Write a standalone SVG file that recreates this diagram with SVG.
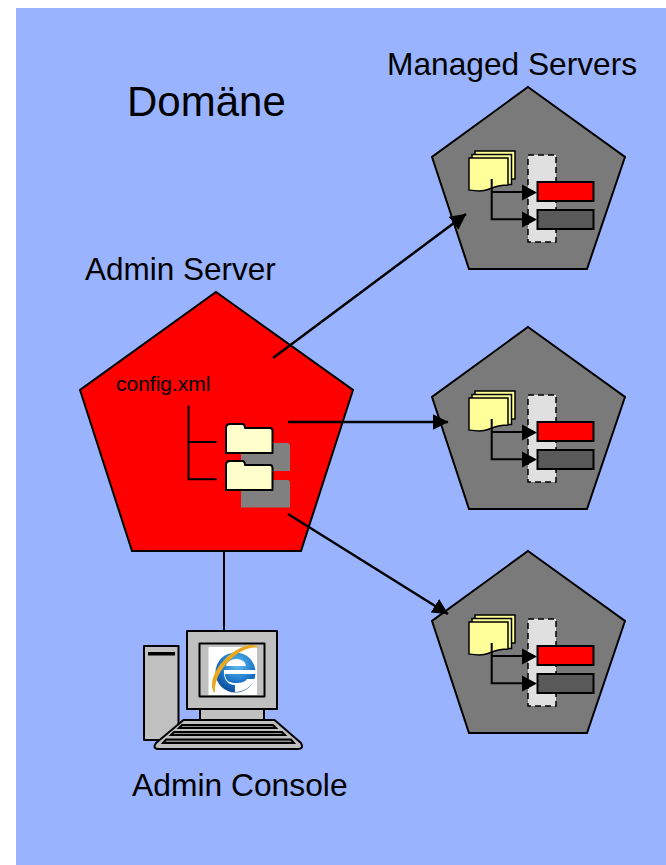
<svg xmlns="http://www.w3.org/2000/svg" width="666" height="865" viewBox="0 0 666 865">
<style>
text{font-family:"Liberation Sans",Arial,sans-serif;fill:#000}
.ln{fill:none;stroke:#000;stroke-width:2}
.ar{fill:none;stroke:#000;stroke-width:2.500}
.ms{fill:#7a7a7a;stroke:#000;stroke-width:2;stroke-linejoin:miter}
.pg{fill:#ffff99;stroke:#000;stroke-width:1.500}
.fd{fill:#ffffcc;stroke:#000;stroke-width:2;stroke-linejoin:round}
.gr{fill:#808080}
.kb{fill:#c0c0c0;stroke:#000;stroke-width:2;stroke-linejoin:round}
</style>
<defs>
<marker id="ah" markerUnits="userSpaceOnUse" markerWidth="16" markerHeight="16" refX="15.500" refY="8" orient="auto"><path d="M0 0L16 8L0 16Z" fill="#000"/></marker>
<g id="managed">
<polygon class="ms" points="528,87 625,157 587,269 469,269 432,157"/>
<rect x="528" y="155" width="28" height="87" fill="#e0e0e0" stroke="#000" stroke-width="1.500" stroke-dasharray="6 4"/>
<rect class="pg" x="475" y="151" width="40" height="28"/>
<rect class="pg" x="472" y="154.500" width="39.500" height="30"/>
<path class="pg" d="M469 158H508V185C498 185 494 187 488 189.500C482 192 476 191 469 190Z"/>
<path d="M491.700 179V219.300H524M491.700 192H524" fill="none" stroke="#000" stroke-width="2"/>
<path d="M522 184.500L537 192.500L522 200.500Z M522 211.500L537 219.500L522 227.500Z" fill="#000"/>
<rect x="537.500" y="182" width="56" height="19" fill="#ff0000" stroke="#000" stroke-width="2"/>
<rect x="537.500" y="210" width="56" height="19" fill="#595959" stroke="#000" stroke-width="2"/>
</g>
<radialGradient id="ball" cx="0.55" cy="0.3" r="0.8"><stop offset="0" stop-color="#5fc0ee"/><stop offset="0.55" stop-color="#1a74c8"/><stop offset="1" stop-color="#0c3f88"/></radialGradient>
</defs>
<rect x="16" y="8" width="650" height="857" fill="#99b3ff"/>
<g id="domain-label"><text x="127" y="116" font-size="42">Domäne</text></g>
<g id="managed-label"><text x="387" y="75" font-size="31.700">Managed Servers</text></g>
<g id="admin-server">
<polygon points="216,292 353,390 301,551 132,551 80,390" fill="#ff0000" stroke="#000" stroke-width="2"/>
<text x="85" y="280" font-size="31.500">Admin Server</text>
<text x="116" y="391" font-size="21">config.xml</text>
<path class="gr" d="M241 443H287Q290 443 290 446V471H241Z"/>
<path class="gr" d="M241 480H287Q290 480 290 483V507.500H241Z"/>
<path class="ln" d="M188.500 405.500V479.300H216.700M188.500 442H216.700"/>
<path class="fd" d="M226 453V428Q226 424 230 424H242Q245 424 245 428H270Q272.500 428 272.500 431V453Z"/>
<path class="fd" d="M226 490V465Q226 461 230 461H242Q245 461 245 465H270Q272.500 465 272.500 468V490Z"/>
</g>
<g id="managed-1"><use href="#managed"/></g>
<g id="managed-2"><use href="#managed" y="240"/></g>
<g id="managed-3"><use href="#managed" y="464"/></g>
<g id="connectors">
<path class="ln" d="M224 551V631"/>
<path class="ar" marker-end="url(#ah)" d="M273 358L466 214"/>
<path class="ar" marker-end="url(#ah)" d="M288 422H448"/>
<path class="ar" marker-end="url(#ah)" d="M288 514L448 614"/>
</g>
<g id="admin-console">
<rect class="kb" x="144" y="646" width="34.500" height="94"/>
<rect x="148" y="652" width="27" height="3.500" fill="#000"/>
<rect class="kb" x="187" y="631" width="90" height="78"/>
<rect class="kb" x="199.500" y="643.500" width="65" height="53"/>
<rect x="208.500" y="647" width="48.500" height="48" fill="#fff"/>
<circle cx="235.500" cy="672.500" r="20" fill="url(#ball)"/>
<path d="M224 670H256V674H225C225 681 230 683 236 683C241 683 245 682 247 679H255C252 686 244 692 235 692L235 685C229 685 224 681 224 673ZM226 666H246C245 661 241 659 236 659C231 659 227 662 226 666Z" fill="#fff"/>
<path d="M215 693C207 686 215 665 232 653C245 644 255 643 258 648C250 646 239 651 229 661C219 671 214 683 215 693Z" fill="#e8a820"/>
<rect class="kb" x="200" y="709" width="64" height="11"/>
<path class="kb" d="M183.500 720H274.500L301 743Q304 749 298 749H159Q152 749 156 743Z"/>
<path d="M182 725H273L276 728H179ZM174 732H282L285 735H171ZM166 739.500H291L294 743H163Z" fill="#909090" stroke="#000" stroke-width="2"/>
<text x="132" y="796" font-size="31.800">Admin Console</text>
</g>
</svg>
